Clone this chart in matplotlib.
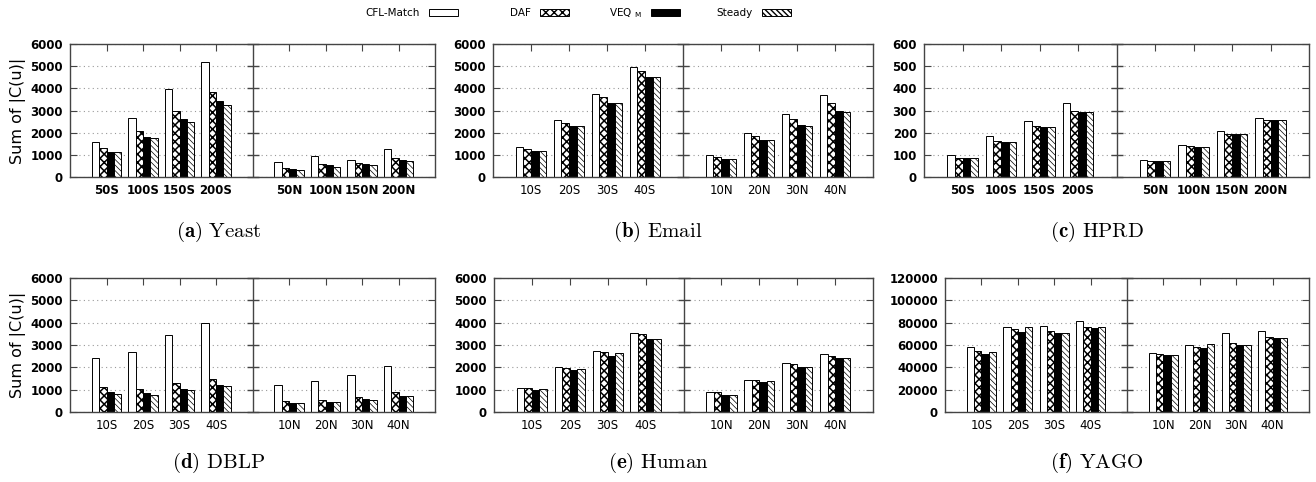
import matplotlib
matplotlib.use("Agg")
from matplotlib import pyplot as plt
import numpy as np

# x tick labels
yeast_labels = ["50S", "100S", "150S", "200S", "50N", "100N", "150N", "200N"]
email_labels = ["10S", "20S", "30S", "40S", "10N", "20N", "30N", "40N"]
hprd_labels = ["50S", "100S", "150S", "200S", "50N", "100N", "150N", "200N"]
dblp_labels = ["10S", "20S", "30S", "40S", "10N", "20N", "30N", "40N"]
human_labels = ["10S", "20S", "30S", "40S", "10N", "20N", "30N", "40N"]
yago_labels = ["10S", "20S", "30S", "40S", "10N", "20N", "30N", "40N"]

# values per method
yeast_cfl = [1570, 2640, 3950, 5200, 680, 960, 760, 1280]
yeast_daf = [1320, 2080, 2980, 3830, 420, 600, 640, 860]
yeast_veq = [1150, 1810, 2610, 3440, 380, 530, 590, 780]
yeast_steady = [1110, 1740, 2460, 3240, 310, 460, 550, 730]

email_cfl = [1360, 2560, 3740, 4980, 990, 1990, 2850, 3710]
email_daf = [1280, 2440, 3590, 4770, 920, 1840, 2620, 3360]
email_veq = [1190, 2280, 3350, 4490, 800, 1670, 2340, 3000]
email_steady = [1190, 2290, 3350, 4490, 800, 1660, 2280, 2940]

hprd_cfl = [100, 184, 253, 332, 77, 143, 207, 268]
hprd_daf = [85, 164, 231, 297, 72, 140, 196, 256]
hprd_veq = [85, 160, 226, 293, 72, 136, 196, 256]
hprd_steady = [85, 160, 226, 293, 72, 136, 196, 256]

dblp_cfl = [2430, 2700, 3450, 4000, 1215, 1410, 1650, 2040]
dblp_daf = [1100, 1020, 1290, 1485, 480, 525, 660, 900]
dblp_veq = [900, 870, 1050, 1230, 390, 450, 570, 735]
dblp_steady = [825, 780, 975, 1170, 390, 450, 540, 735]

human_cfl = [1095, 2025, 2730, 3555, 900, 1440, 2190, 2580]
human_daf = [1095, 1980, 2670, 3495, 900, 1440, 2145, 2520]
human_veq = [975, 1875, 2505, 3270, 780, 1350, 1995, 2400]
human_steady = [1020, 1920, 2625, 3285, 780, 1380, 1995, 2400]

yago_cfl = [57900, 75900, 76800, 81600, 52500, 59700, 70500, 72300]
yago_daf = [54900, 74700, 72900, 76200, 51900, 57900, 62100, 67500]
yago_veq = [51900, 72000, 70500, 75300, 51000, 57000, 60300, 66600]
yago_steady = [54000, 76200, 70500, 76200, 51000, 60600, 59700, 66000]

methods = ["CFL-Match", "DAF", "VEQ $_{\\mathrm{M}}$", "Steady"]
colors = ["white", "white", "black", "white"]
hatches = [None, "xxxx", None, "\\\\\\\\\\\\"]
hatch_lw = [0.6, 1.1, 0.6, 0.5]

W, H = 1316, 482
fig = plt.figure(figsize=(W / 100, H / 100), dpi=100)

panels = [
    ("(a)", "Yeast", yeast_labels, [yeast_cfl, yeast_daf, yeast_veq, yeast_steady], 6000, 1000, True, (70, 435, 44, 177)),
    ("(b)", "Email", email_labels, [email_cfl, email_daf, email_veq, email_steady], 6000, 1000, False, (493, 873, 44, 177)),
    ("(c)", "HPRD", hprd_labels, [hprd_cfl, hprd_daf, hprd_veq, hprd_steady], 600, 100, True, (924, 1309, 44, 177)),
    ("(d)", "DBLP", dblp_labels, [dblp_cfl, dblp_daf, dblp_veq, dblp_steady], 6000, 1000, False, (70, 435, 278, 412)),
    ("(e)", "Human", human_labels, [human_cfl, human_daf, human_veq, human_steady], 6000, 1000, False, (494, 873, 278, 412)),
    ("(f)", "YAGO", yago_labels, [yago_cfl, yago_daf, yago_veq, yago_steady], 120000, 20000, False, (945, 1309, 278, 412)),
]

frame = "#444444"
handles = None
for k, (tag, name, labels, series, ymax, ystep, boldx, box) in enumerate(panels):
    l, r, t, b = box
    ax = fig.add_axes([l / W, 1 - b / H, (r - l) / W, (b - t) / H])
    pos = np.array([1, 2, 3, 4, 6, 7, 8, 9])
    bars = []
    for i, vals in enumerate(series):
        with plt.rc_context({"hatch.linewidth": hatch_lw[i]}):
            bc = ax.bar(pos + (i - 1.5) * 0.2, vals, 0.2, color=colors[i],
                        edgecolor="black", linewidth=0.7, hatch=hatches[i], zorder=2)
        bars.append(bc)
    if handles is None:
        handles = bars
    ax.set_xlim(0, 10)
    ax.set_ylim(0, ymax)
    yt = np.arange(0, ymax + 1, ystep)
    ax.set_yticks(yt)
    ax.set_xticks(pos)
    ax.set_xticklabels(labels, fontsize=8.5, fontweight="bold" if boldx else "normal")
    ax.set_yticklabels([str(v) for v in yt], fontsize=8.5, fontweight="bold")
    ax.tick_params(axis="y", direction="in", length=5, left=True, right=True, pad=5, color=frame)
    ax.tick_params(axis="x", direction="in", length=5, top=True, bottom=False, pad=5, color=frame)
    for sp in ax.spines.values():
        sp.set_color(frame)
        sp.set_linewidth(1)
    ax.yaxis.grid(True, linestyle=(0, (1, 3)), color="#999999", linewidth=0.8, zorder=0)
    ax.set_axisbelow(True)
    # divider between S and N groups, with its own ticks
    ax.axvline(5, color=frame, linewidth=1, zorder=3)
    ax.plot([5] * len(yt), yt, ls="none", marker="_", ms=8, mew=1, color=frame, zorder=3, clip_on=False)
    if k in (0, 3):
        ax.set_ylabel("Sum of |C(u)|", fontsize=11.5, labelpad=3)
    cx = [219, 658, 1097][k % 3]
    cy = [232, 463][k // 3]
    fig.text(cx / W, 1 - cy / H, "$\\mathbf{" + tag + "}$ $\\mathrm{" + name + "}$",
             math_fontfamily="cm", fontsize=15, ha="center", va="center")

# legend, fixed-width cells like gnuplot
for i in range(4):
    right = 458 + 111 * i
    fig.legend([handles[i]], [methods[i]], loc="center right",
               bbox_to_anchor=(right / W, 1 - 13 / H), markerfirst=False,
               frameon=False, fontsize=7.5, handlelength=2.8, handleheight=0.7,
               handletextpad=0.9, borderpad=0, borderaxespad=0)

fig.savefig("out.png", dpi=100)
